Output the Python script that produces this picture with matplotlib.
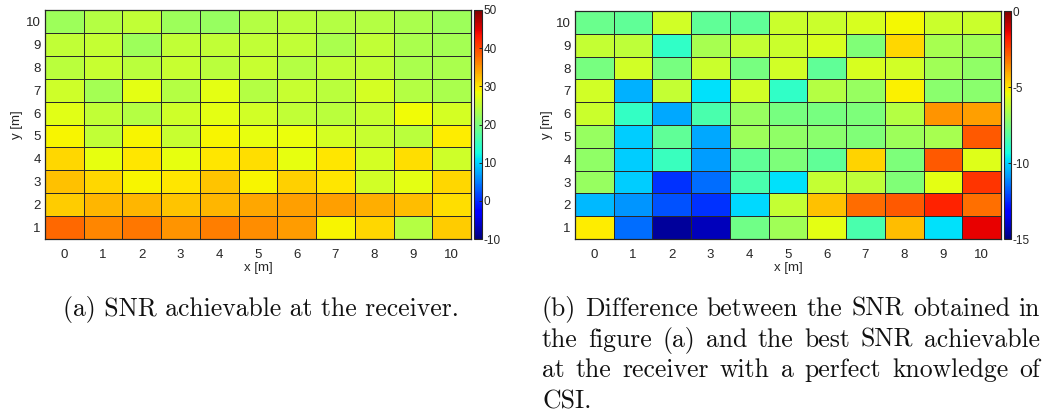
import numpy as np
import matplotlib
matplotlib.use("Agg")
import matplotlib.pyplot as plt

# grid of receiver positions
x_m = list(range(0, 11))
y_m = list(range(1, 11))

# SNR at the receiver [dB], one row per y (y = 1 ... 10)
snr = [
    [38.0, 36.0, 37.0, 35.0, 36.5, 35.5, 34.7, 29.0, 31.0, 24.0, 31.5],
    [31.5, 33.0, 33.0, 32.0, 33.0, 34.0, 34.5, 34.5, 33.5, 32.5, 30.5],
    [32.4, 31.0, 29.0, 30.0, 32.0, 29.0, 31.3, 30.0, 26.3, 27.7, 31.0],
    [30.8, 27.8, 30.0, 27.8, 30.0, 30.5, 27.8, 30.0, 26.5, 30.5, 26.0],
    [29.0, 25.0, 29.0, 25.5, 29.0, 27.8, 28.0, 26.5, 25.5, 24.5, 29.5],
    [27.3, 25.0, 24.0, 26.0, 27.5, 26.3, 25.0, 24.5, 25.5, 28.5, 26.5],
    [26.0, 23.0, 27.5, 24.0, 27.5, 24.0, 25.5, 24.5, 26.5, 24.0, 23.5],
    [24.5, 25.5, 24.5, 25.5, 24.5, 25.5, 24.0, 25.0, 25.0, 23.5, 23.5],
    [25.0, 25.3, 22.5, 25.0, 25.0, 25.0, 25.0, 23.5, 25.0, 23.5, 23.0],
    [22.5, 24.0, 25.0, 22.5, 22.0, 24.0, 24.5, 24.0, 24.0, 23.5, 22.5],
]

# SNR loss w.r.t. perfect CSI [dB], one row per y (y = 1 ... 10)
snr_diff = [
    [-5.1, -11.5, -14.6, -14.2, -7.7, -6.8, -5.6, -8.4, -4.35, -9.8, -1.4],
    [-10.4, -10.9, -11.95, -12.4, -9.95, -6.2, -4.45, -3.05, -2.8, -1.9, -3.15],
    [-7.0, -10.1, -12.4, -11.5, -8.4, -9.8, -6.2, -6.3, -7.4, -5.6, -2.2],
    [-7.1, -10.1, -8.7, -10.8, -8.0, -7.5, -8.0, -4.7, -7.5, -2.8, -5.7],
    [-7.0, -10.1, -8.0, -10.65, -6.9, -7.1, -7.25, -7.4, -6.9, -6.7, -2.8],
    [-6.07, -8.8, -10.65, -8.4, -7.0, -7.6, -7.6, -7.5, -6.45, -3.75, -3.87],
    [-5.96, -10.5, -6.2, -9.8, -5.96, -8.9, -6.45, -7.0, -5.2, -7.25, -7.25],
    [-7.6, -5.96, -7.6, -6.07, -7.6, -5.96, -8.0, -5.85, -5.96, -6.8, -7.1],
    [-6.2, -6.3, -8.9, -6.7, -6.2, -6.07, -5.85, -7.4, -4.8, -6.7, -6.8],
    [-7.85, -8.0, -5.96, -8.0, -8.0, -6.07, -6.07, -5.85, -5.28, -6.07, -6.07],
]

snr_ticks = [-10, 0, 10, 20, 30, 40, 50]
diff_ticks = [-15, -10, -5, 0]

caption_a = "(a) SNR achievable at the receiver."
caption_b = ["(b) Difference between the SNR obtained in",
             "the figure (a) and the best SNR achievable",
             "at the receiver with a perfect knowledge of",
             "CSI."]

TXT = "#262626"
plt.rcParams["font.family"] = ["Liberation Sans", "DejaVu Sans"]
plt.rcParams["axes.unicode_minus"] = False

fig = plt.figure(figsize=(10.43, 4.18), dpi=100)
W, H = 1043, 418


def px_axes(x0, x1, y0, y1):
    return fig.add_axes([x0 / W, 1 - y1 / H, (x1 - x0) / W, (y1 - y0) / H])


def heatmap(ax, cax, data, vmin, vmax, ticks):
    mesh = ax.pcolormesh(x_m, y_m, np.array(data), cmap="jet", vmin=vmin, vmax=vmax,
                         shading="nearest", edgecolors="#2a2a2a", linewidth=0.65)
    ax.set_xlim(-0.5, 10.5)
    ax.set_ylim(0.5, 10.5)
    ax.set_xticks(x_m)
    ax.set_yticks(y_m)
    ax.tick_params(length=0, labelsize=9.5, colors=TXT, pad=3)
    ax.tick_params(axis="x", pad=7)
    ax.set_xlabel("x [m]", fontsize=9.5, color=TXT, labelpad=1)
    ax.set_ylabel("y [m]", fontsize=9.5, color=TXT, labelpad=2)
    for s in ax.spines.values():
        s.set_color(TXT)
        s.set_linewidth(0.9)
    cb = fig.colorbar(mesh, cax=cax, ticks=ticks)
    cb.outline.set_edgecolor(TXT)
    cb.outline.set_linewidth(0.8)
    cax.tick_params(direction="in", length=2.5, width=0.7, labelsize=8.5,
                    colors=TXT, pad=1)
    return mesh


ax1 = px_axes(45, 471, 10, 239)
cax1 = px_axes(474, 482, 10, 239)
heatmap(ax1, cax1, snr, -10, 50, snr_ticks)

ax2 = px_axes(575, 1001, 11, 239)
cax2 = px_axes(1004, 1011, 11, 239)
heatmap(ax2, cax2, snr_diff, -15, 0, diff_ticks)

# captions in Computer Modern
cap_font = dict(family="cmr10", size=18.5, color="#111111")
fig.text(261 / W, 1 - 316 / H, caption_a, ha="center", va="baseline", **cap_font)

# justified paragraph for (b)
fig.canvas.draw()
rend = fig.canvas.get_renderer()
left, right = 542, 1040
space = fig.text(0, 0, "a b", **cap_font).get_window_extent(rend).width \
    - fig.text(0, 0, "ab", **cap_font).get_window_extent(rend).width
for t in fig.texts[-2:]:
    t.remove()
for i, line in enumerate(caption_b):
    base = 1 - (316 + 30.7 * i) / H
    words = line.split(" ")
    items = [fig.text(0, base, w, va="baseline", **cap_font) for w in words]
    widths = [t.get_window_extent(rend).width for t in items]
    if i < len(caption_b) - 1 and len(words) > 1:
        gap = (right - left - sum(widths)) / (len(words) - 1)
    else:
        gap = space
    xpos = left
    for t, w in zip(items, widths):
        t.set_x(xpos / W)
        xpos += w + gap

fig.savefig("out.png", dpi=100)
